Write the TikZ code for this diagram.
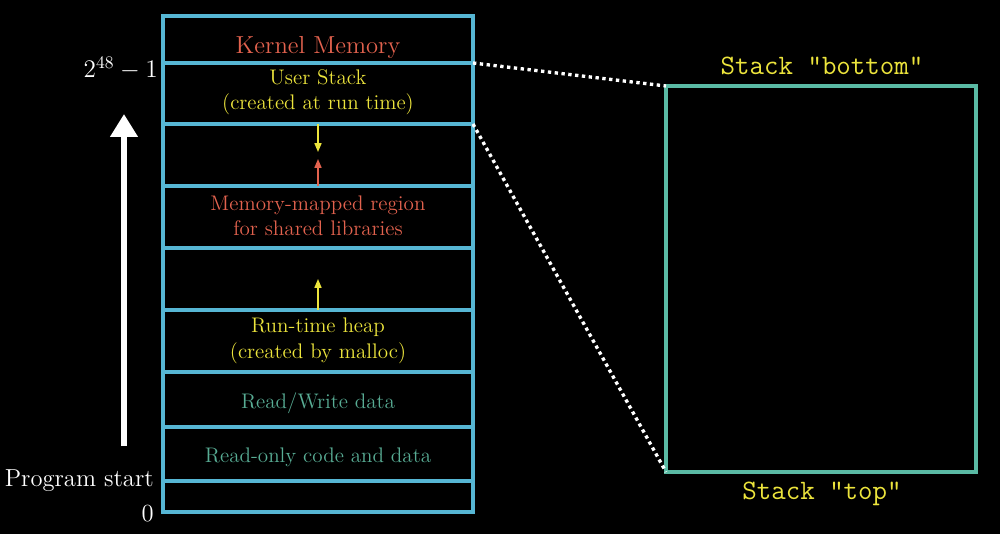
\documentclass[tikz,border=0pt]{standalone}
\usepackage{tikz}
\usetikzlibrary{arrows.meta}

\definecolor{memblue}{RGB}{86,182,212}
\definecolor{viewteal}{RGB}{90,186,164}
\definecolor{kernred}{RGB}{226,98,78}
\definecolor{stackyellow}{RGB}{236,228,60}
\definecolor{datateal}{RGB}{88,172,148}

\begin{document}
\begin{tikzpicture}[x=0.02cm, y=-0.02cm,
    segline/.style={memblue, line width=2.1pt},
    seglabel/.style={align=center, font=\fontsize{12}{14.5}\selectfont},
    growarrow/.style={line width=0.8pt, -{Triangle[length=5pt, width=4pt]}},
    ttlabel/.style={stackyellow, font=\fontsize{16}{18}\selectfont\ttfamily}]

    % Hintergrund
    \fill[black] (0,0) rectangle (1000,534);
    \useasboundingbox (0,0) rectangle (1000,534);

    % Adressraum: Grenzen der Segmente
    \coordinate (km-tl) at (163,16);   \coordinate (km-tr) at (473,16);
    \coordinate (us-tl) at (163,63);   \coordinate (us-tr) at (473,63);
    \coordinate (gap-tl) at (163,124); \coordinate (gap-tr) at (473,124);
    \coordinate (mm-tl) at (163,186);  \coordinate (mm-tr) at (473,186);
    \coordinate (free-tl) at (163,248);\coordinate (free-tr) at (473,248);
    \coordinate (hp-tl) at (163,310);  \coordinate (hp-tr) at (473,310);
    \coordinate (rw-tl) at (163,372);  \coordinate (rw-tr) at (473,372);
    \coordinate (ro-tl) at (163,427);  \coordinate (ro-tr) at (473,427);
    \coordinate (res-tl) at (163,481); \coordinate (res-tr) at (473,481);
    \coordinate (res-br) at (473,512);

    \draw[segline] (km-tl) rectangle (res-br);
    \foreach \seg in {us, gap, mm, free, hp, rw, ro, res}
        \draw[segline] (\seg-tl) -- (\seg-tr);

    % Beschriftung der Segmente
    \node[kernred, font=\fontsize{14}{16}\selectfont] (kernel) at (318,47) {Kernel Memory};
    \node[seglabel, stackyellow] (userstack) at (318,92) {User Stack\\(created at run time)};
    \node[seglabel, kernred] (mmap) at (318,216) {Memory-mapped region\\for shared libraries};
    \node[seglabel, stackyellow] (heap) at (318,341) {Run-time heap\\(created by malloc)};
    \node[seglabel, datateal] (rwdata) at (318,403) {Read/Write data};
    \node[seglabel, datateal] (rocode) at (318,457) {Read-only code and data};

    % Wachstumsrichtungen
    \coordinate (stack-grow) at (318,152);
    \coordinate (mmap-grow) at (318,159);
    \coordinate (heap-grow) at (318,279);
    \draw[growarrow, stackyellow] (318,124) -- (stack-grow);
    \draw[growarrow, kernred] (318,186) -- (mmap-grow);
    \draw[growarrow, stackyellow] (318,310) -- (heap-grow);

    % Adressen
    \node[white, anchor=east, font=\fontsize{14}{16}\selectfont] (maxaddr) at (164,68) {$2^{48}-1$};
    \node[white, anchor=east, font=\fontsize{14}{16}\selectfont] (progstart) at (160,481) {Program start};
    \node[white, anchor=east, font=\fontsize{14}{16}\selectfont] (zeroaddr) at (160,514) {0};

    % Pfeil: wachsende Adressen
    \coordinate (addr-low) at (124,446);
    \coordinate (addr-high) at (124,114);
    \draw[white, line width=3.6pt, -{Triangle[length=13pt, width=15pt]}] (addr-low) -- (addr-high);

    % Vergroesserter Stack
    \coordinate (view-tl) at (666,86);
    \coordinate (view-br) at (976,472);
    \coordinate (view-bl) at (666,472);
    \draw[viewteal, line width=2.1pt] (view-tl) rectangle (view-br);
    \node[ttlabel] (stackbottom) at (822,66) {Stack "bottom"};
    \node[ttlabel] (stacktop) at (822,494) {Stack "top"};

    % Verbindung Stack -> Ansicht
    \draw[white, line width=1.9pt, dotted] (us-tr) -- (view-tl);
    \draw[white, line width=1.9pt, dotted] (gap-tr) -- (view-bl);
\end{tikzpicture}
\end{document}
